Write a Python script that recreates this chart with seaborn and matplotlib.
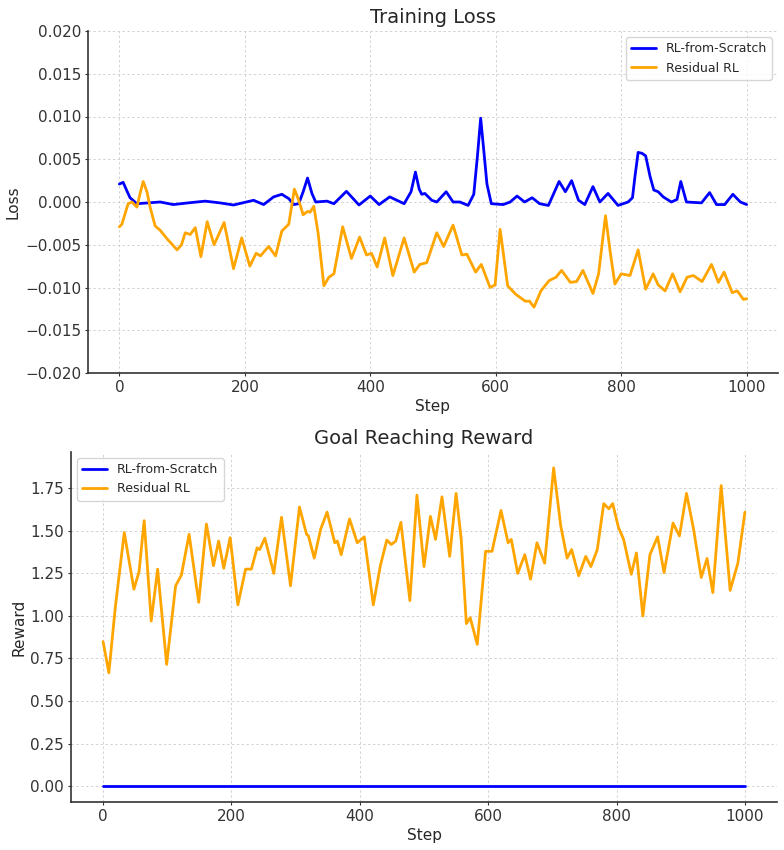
import matplotlib
matplotlib.use("Agg")
import matplotlib.pyplot as plt
import seaborn as sns
import pandas as pd

# ---------------- data ----------------
loss_scratch_steps = [0, 6, 12, 17, 28, 65, 86, 110, 137, 160, 182, 214, 230, 246, 259, 270, 278, 286,
                      293, 300, 307, 313, 331, 342, 362, 382, 400, 414, 431, 454, 465, 472, 478, 482,
                      487, 498, 506, 521, 532, 543, 556, 565, 571, 576, 581, 586, 593, 612, 623, 634,
                      646, 658, 670, 684, 701, 711, 721, 732, 742, 755, 766, 779, 795, 811, 818, 822,
                      827, 833, 839, 846, 852, 859, 867, 880, 889, 895, 904, 928, 941, 952, 965, 978,
                      990, 1000]
loss_scratch = [0.0021, 0.0023, 0.0013, 0.0005, -0.0002, 0.0, -0.0003, -0.0001, 0.0001, -0.0001,
                -0.00035, 0.0002, -0.0003, 0.0006, 0.0009, 0.0004, -0.0003, -0.0002, 0.0012, 0.0028,
                0.0010, 0.0, 0.0001, -0.0002, 0.00125, -0.00035, 0.0007, -0.0003, 0.0006, -0.0002,
                0.0012, 0.0035, 0.0015, 0.0009, 0.001, 0.0002, 0.0, 0.0012, 0.0, 0.0, -0.0004, 0.0009,
                0.0055, 0.0098, 0.0060, 0.0021, -0.0002, -0.0003, 0.0, 0.0007, 0.0, 0.0005, -0.0002,
                -0.0004, 0.0024, 0.0012, 0.0025, 0.0002, -0.0003, 0.0018, 0.0, 0.001, -0.0004, 0.0,
                0.0005, 0.003, 0.0058, 0.0057, 0.0054, 0.003, 0.0014, 0.0012, 0.0006, 0.0, 0.0003,
                0.0024, 0.0, -0.0001, 0.0011, -0.0003, -0.0003, 0.0009, 0.0, -0.0003]

loss_residual_steps = [0, 4, 14, 20, 28, 33, 38, 44, 49, 57, 65, 76, 92, 99, 105, 113, 121, 130, 140,
                       151, 167, 182, 195, 208, 218, 225, 238, 249, 259, 270, 279, 286, 293, 300, 304,
                       310, 317, 326, 334, 342, 356, 370, 383, 394, 402, 411, 423, 436, 454, 470, 479,
                       490, 506, 517, 532, 546, 554, 568, 577, 591, 599, 607, 619, 632, 647, 654, 661,
                       672, 685, 696, 705, 719, 729, 739, 755, 764, 775, 783, 790, 800, 814, 827, 839,
                       851, 859, 870, 882, 894, 905, 915, 929, 944, 955, 964, 977, 985, 995, 1000]
loss_residual = [-0.0029, -0.0026, -0.0002, 0.0, -0.0006, 0.001, 0.0024, 0.0012, -0.0006, -0.0028,
                 -0.0033, -0.0043, -0.0056, -0.005, -0.0036, -0.0038, -0.003, -0.0064, -0.0023, -0.005,
                 -0.0024, -0.0078, -0.0042, -0.0075, -0.006, -0.0063, -0.0052, -0.0063, -0.0034,
                 -0.0026, 0.0015, 0.0002, -0.0015, -0.0011, -0.0012, -0.0005, -0.0037, -0.0098,
                 -0.0088, -0.0084, -0.0029, -0.0066, -0.0041, -0.0062, -0.006, -0.0076, -0.0042,
                 -0.0086, -0.0042, -0.0082, -0.0073, -0.0071, -0.0036, -0.0052, -0.0027, -0.0062,
                 -0.0061, -0.0082, -0.0073, -0.01, -0.0097, -0.0032, -0.0098, -0.0108, -0.0116,
                 -0.0116, -0.0123, -0.0104, -0.0092, -0.0088, -0.008, -0.0094, -0.0093, -0.008,
                 -0.0107, -0.0084, -0.0016, -0.0061, -0.0096, -0.0084, -0.0086, -0.0056, -0.0102,
                 -0.0084, -0.0097, -0.0104, -0.0084, -0.0105, -0.0088, -0.0086, -0.0093, -0.0073,
                 -0.0094, -0.0082, -0.0106, -0.0104, -0.0114, -0.0113]

reward_scratch_steps = [0, 250, 500, 750, 1000]
reward_scratch = [0.0, 0.0, 0.0, 0.0, 0.0]

reward_residual_steps = [0, 9, 19, 33, 48, 56, 64, 75, 85, 99, 113, 122, 134, 149, 161, 172, 180, 188,
                         198, 210, 222, 231, 240, 244, 252, 266, 278, 292, 306, 317, 320, 329, 339, 349,
                         361, 365, 371, 384, 396, 407, 421, 432, 442, 449, 456, 464, 478, 489, 500, 510,
                         518, 528, 540, 550, 558, 566, 572, 583, 596, 606, 620, 631, 636, 646, 657, 666,
                         676, 688, 702, 713, 723, 730, 741, 752, 760, 770, 780, 788, 794, 803, 811, 823,
                         831, 841, 852, 864, 874, 888, 898, 909, 920, 932, 941, 950, 963, 977, 989, 1000]
reward_residual = [0.849, 0.666, 1.05, 1.49, 1.157, 1.26, 1.56, 0.97, 1.275, 0.715, 1.177, 1.24, 1.48,
                   1.08, 1.54, 1.295, 1.44, 1.28, 1.46, 1.065, 1.275, 1.275, 1.40, 1.39, 1.457, 1.25,
                   1.58, 1.177, 1.64, 1.48, 1.47, 1.34, 1.51, 1.61, 1.43, 1.44, 1.36, 1.57, 1.43, 1.465,
                   1.065, 1.295, 1.446, 1.42, 1.44, 1.55, 1.09, 1.71, 1.29, 1.585, 1.45, 1.70, 1.35,
                   1.72, 1.45, 0.955, 0.99, 0.833, 1.38, 1.38, 1.62, 1.43, 1.45, 1.25, 1.36, 1.216,
                   1.43, 1.31, 1.87, 1.53, 1.34, 1.39, 1.236, 1.35, 1.29, 1.39, 1.66, 1.63, 1.66, 1.52,
                   1.45, 1.245, 1.37, 1.0, 1.36, 1.465, 1.255, 1.546, 1.47, 1.72, 1.51, 1.226, 1.338,
                   1.137, 1.766, 1.15, 1.31, 1.61]

series_names = ["RL-from-Scratch", "Residual RL"]
series_colors = ["blue", "orange"]

# ---------------- style ----------------
sns.set_style("ticks", {
    "axes.grid": True,
    "grid.linestyle": (0, (2.5, 2.5)),
    "grid.color": "#d2d2d2",
    "axes.edgecolor": "#333333",
})
plt.rcParams.update({
    "font.family": ["DejaVu Sans"],
    "text.color": "#262626",
    "axes.labelcolor": "#262626",
    "xtick.color": "#333333",
    "ytick.color": "#333333",
    "xtick.labelcolor": "#333333",
    "ytick.labelcolor": "#333333",
    "grid.linewidth": 0.7,
    "axes.linewidth": 1.2,
    "xtick.major.size": 2.5,
    "ytick.major.size": 2.5,
    "xtick.major.pad": 2.5,
    "ytick.major.pad": 2.5,
    "axes.labelpad": 3,
})

fig = plt.figure(figsize=(7.84, 8.5), dpi=100)
ax1 = fig.add_axes([88 / 784, 1 - 373 / 850, (778 - 88) / 784, (373 - 31) / 850])
ax2 = fig.add_axes([71 / 784, 1 - 802 / 850, (777 - 71) / 784, (802 - 452) / 850])

df1a = pd.DataFrame({"Step": loss_scratch_steps, "Loss": loss_scratch})
df1b = pd.DataFrame({"Step": loss_residual_steps, "Loss": loss_residual})
sns.lineplot(data=df1a, x="Step", y="Loss", ax=ax1, color=series_colors[0], lw=2, label=series_names[0])
sns.lineplot(data=df1b, x="Step", y="Loss", ax=ax1, color=series_colors[1], lw=2, label=series_names[1])
ax1.set_ylim(-0.02, 0.02)
ax1.set_title("Training Loss", fontsize=14)
ax1.set_xlabel("Step", fontsize=11)
ax1.set_ylabel("Loss", fontsize=11)
ax1.tick_params(labelsize=11)
ax1.legend(loc="upper right", fontsize=9, frameon=True)

df2a = pd.DataFrame({"Step": reward_scratch_steps, "Reward": reward_scratch})
df2b = pd.DataFrame({"Step": reward_residual_steps, "Reward": reward_residual})
sns.lineplot(data=df2a, x="Step", y="Reward", ax=ax2, color=series_colors[0], lw=2, label=series_names[0])
sns.lineplot(data=df2b, x="Step", y="Reward", ax=ax2, color=series_colors[1], lw=2, label=series_names[1])
ax2.set_title("Goal Reaching Reward", fontsize=14)
ax2.set_xlabel("Step", fontsize=11)
ax2.set_ylabel("Reward", fontsize=11)
ax2.tick_params(labelsize=11)
ax2.legend(loc="upper left", fontsize=9, frameon=True)

for ax in (ax1, ax2):
    sns.despine(ax=ax)
    ax.set_xticks([0, 200, 400, 600, 800, 1000])

fig.savefig("out.png", dpi=100)
